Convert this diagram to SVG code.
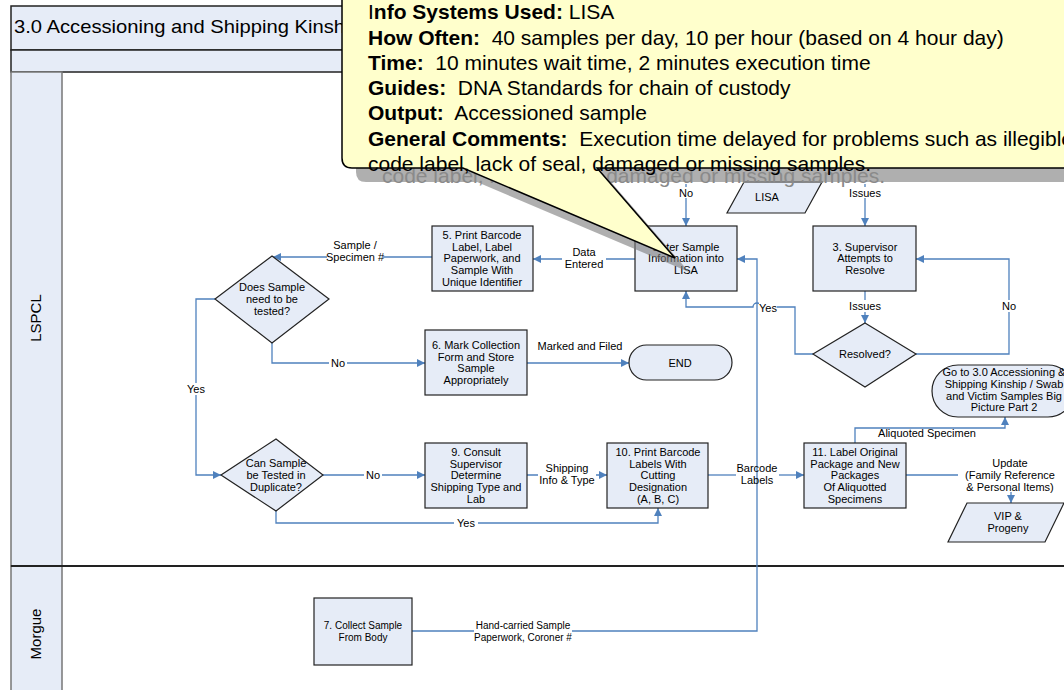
<svg xmlns="http://www.w3.org/2000/svg" width="1064" height="690" viewBox="0 0 1064 690">
<defs>
<style>
text{font-family:"Liberation Sans",Arial,sans-serif;fill:#000}
.n{fill:#E6ECF7;stroke:#222;stroke-width:1.2}
.t{font-size:11px;text-anchor:middle}
.s{font-size:10px;text-anchor:middle}
.g{font-size:11px;text-anchor:middle}
.c{fill:none;stroke:#4F81BD;stroke-width:1.3}
.bg{fill:#fff}
.co{font-size:21px}
.co tspan.b{font-weight:bold}
</style>
<marker id="a" viewBox="0 0 10 10" refX="10" refY="5" markerWidth="8" markerHeight="8" markerUnits="userSpaceOnUse" orient="auto">
<path d="M0,0 L10,5 L0,10 z" fill="#4F81BD"/>
</marker>
</defs>
<rect width="1064" height="690" fill="#fff"/>
<g id="pool">
<rect x="11" y="6" width="1060" height="44" fill="#E6ECF7" stroke="#222" stroke-width="1.5"/>
<rect x="11" y="50" width="1060" height="22" fill="#E6ECF7" stroke="#222" stroke-width="1.5"/>
<text x="14" y="33" font-size="19" textLength="331" lengthAdjust="spacingAndGlyphs">3.0 Accessioning and Shipping Kinsh</text>
</g>
<g id="lane-lspcl">
<rect x="11" y="72" width="51" height="494" fill="#E6ECF7" stroke="#777" stroke-width="1.5"/>
<text transform="translate(41,318) rotate(-90)" font-size="15" text-anchor="middle">LSPCL</text>
</g>
<g id="lane-morgue">
<rect x="11" y="566" width="51" height="130" fill="#E6ECF7" stroke="#777" stroke-width="1.5"/>
<line x1="11" y1="566" x2="1064" y2="566" stroke="#222" stroke-width="2"/>
<text transform="translate(41,634) rotate(-90)" font-size="15" text-anchor="middle">Morgue</text>
</g>

<g id="connectors">
<path class="c" d="M686,184 V226" marker-end="url(#a)"/>
<path class="c" d="M865,184 V226" marker-end="url(#a)"/>
<path class="c" d="M635,259 H533" marker-end="url(#a)"/>
<path class="c" d="M432,257 H273" marker-end="url(#a)"/>
<path class="c" d="M272,343 V363 H425" marker-end="url(#a)"/>
<path class="c" d="M527,363 H629" marker-end="url(#a)"/>
<path class="c" d="M215,299 H196 V475 H221" marker-end="url(#a)"/>
<path class="c" d="M323,475 H425" marker-end="url(#a)"/>
<path class="c" d="M527,475 H607" marker-end="url(#a)"/>
<path class="c" d="M276,511 V523 H658 V508" marker-end="url(#a)"/>
<path class="c" d="M708,475 H736"/>
<path class="c" d="M779,475 H804" marker-end="url(#a)"/>
<path class="c" d="M855,443 V428 H1005 V417" marker-end="url(#a)"/>
<path class="c" d="M906,475 H1011 V503" marker-end="url(#a)"/>
<path class="c" d="M865,291 V323" marker-end="url(#a)"/>
<path class="c" d="M916,354 H1009 V259 H916" marker-end="url(#a)"/>
<path class="c" d="M813,354 H795 V307 H761 A4,4 0 0 0 753,307 H686 V291" marker-end="url(#a)"/>
<path class="c" d="M412,631 H757 V259 H737" marker-end="url(#a)"/>
<g id="labels">
<rect class="bg" x="678" y="187" width="16" height="11"/><text class="t" x="686" y="197">No</text>
<rect class="bg" x="849" y="187" width="32" height="11"/><text class="t" x="865" y="197">Issues</text>
<rect class="bg" x="562" y="246" width="44" height="25"/><text class="t" x="584" y="256">Data</text><text class="t" x="584" y="268">Entered</text>
<rect class="bg" x="327" y="239" width="56" height="24"/><text class="t" x="355" y="249">Sample /</text><text class="t" x="355" y="261">Specimen #</text>
<rect class="bg" x="329" y="357" width="18" height="12"/><text class="t" x="338" y="367">No</text>
<text class="t" x="580" y="350">Marked and Filed</text>
<rect class="bg" x="184" y="383" width="24" height="12"/><text class="t" x="196" y="393">Yes</text>
<rect class="bg" x="364" y="469" width="18" height="12"/><text class="t" x="373" y="479">No</text>
<rect class="bg" x="538" y="461" width="58" height="26"/><text class="t" x="567" y="472">Shipping</text><text class="t" x="567" y="484">Info &amp; Type</text>
<rect class="bg" x="454" y="517" width="24" height="12"/><text class="t" x="466" y="527">Yes</text>
<text class="t" x="757" y="472">Barcode</text><text class="t" x="757" y="484">Labels</text>
<rect class="bg" x="849" y="300" width="32" height="12"/><text class="t" x="865" y="310">Issues</text>
<rect class="bg" x="1000" y="300" width="18" height="12"/><text class="t" x="1009" y="310">No</text>
<rect class="bg" x="759" y="302" width="18" height="12"/><text class="t" x="768" y="312">Yes</text>
<text class="t" x="927" y="437">Aliquoted Specimen</text>
<rect class="bg" x="958" y="456" width="104" height="36"/><text class="t" x="1010" y="467">Update</text><text class="t" x="1010" y="479">(Family Reference</text><text class="t" x="1010" y="490.5">&amp; Personal Items)</text>
<rect class="bg" x="474" y="619" width="98" height="25"/><text class="s" x="523" y="629">Hand-carried Sample</text><text class="s" x="523" y="641">Paperwork, Coroner #</text>
</g>
</g>

<g id="n-enter"><rect class="n" x="635" y="226" width="102" height="65"/><text class="t" x="686" y="250.7">Enter Sample</text><text class="t" x="686" y="262.3">Information into</text><text class="t" x="686" y="273.9">LISA</text></g>
<g id="n-lisa"><polygon class="n" points="744,182 822,182 805,213 727,213"/><text class="t" x="767" y="201">LISA</text></g>
<g id="n-supervisor"><rect class="n" x="813" y="226" width="103" height="65"/><text class="t" x="865" y="250.7">3. Supervisor</text><text class="t" x="865" y="262.3">Attempts to</text><text class="t" x="865" y="273.9">Resolve</text></g>
<g id="n-resolved"><polygon class="n" points="865,323 916,354 865,387 813,354"/><text class="t" x="865" y="358">Resolved?</text></g>
<g id="n-print5"><rect class="n" x="432" y="226" width="101" height="65"/><text class="t" x="482" y="239">5. Print Barcode</text><text class="t" x="482" y="250.7">Label, Label</text><text class="t" x="482" y="262.3">Paperwork, and</text><text class="t" x="482" y="273.9">Sample With</text><text class="t" x="482" y="285.5">Unique Identifier</text></g>
<g id="n-tested"><polygon class="n" points="272,256 329,299 272,343 215,299"/><text class="t" x="272" y="291">Does Sample</text><text class="t" x="272" y="303">need to be</text><text class="t" x="272" y="315">tested?</text></g>
<g id="n-mark6"><rect class="n" x="425" y="330" width="102" height="65"/><text class="t" x="476" y="349">6. Mark Collection</text><text class="t" x="476" y="360.5">Form and Store</text><text class="t" x="476" y="372">Sample</text><text class="t" x="476" y="383.7">Appropriately</text></g>
<g id="n-end"><rect class="n" x="629" y="345" width="103" height="35" rx="17.5"/><text class="t" x="680" y="366.5">END</text></g>
<g id="n-duplicate"><polygon class="n" points="276,439 323,475 276,511 221,475"/><text class="t" x="276" y="467">Can Sample</text><text class="t" x="276" y="479">be Tested in</text><text class="t" x="276" y="490.5">Duplicate?</text></g>
<g id="n-consult9"><rect class="n" x="425" y="443" width="102" height="65"/><text class="t" x="476" y="456.1">9. Consult</text><text class="t" x="476" y="467.7">Supervisor</text><text class="t" x="476" y="479.3">Determine</text><text class="t" x="476" y="490.9">Shipping Type and</text><text class="t" x="476" y="502.5">Lab</text></g>
<g id="n-print10"><rect class="n" x="607" y="443" width="101" height="65"/><text class="t" x="658" y="456.1">10. Print Barcode</text><text class="t" x="658" y="467.7">Labels With</text><text class="t" x="658" y="479.3">Cutting</text><text class="t" x="658" y="490.9">Designation</text><text class="t" x="658" y="502.5">(A, B, C)</text></g>
<g id="n-label11"><rect class="n" x="804" y="443" width="102" height="65"/><text class="t" x="855" y="456.1">11. Label Original</text><text class="t" x="855" y="467.7">Package and New</text><text class="t" x="855" y="479.3">Packages</text><text class="t" x="855" y="490.9">Of Aliquotted</text><text class="t" x="855" y="502.5">Specimens</text></g>
<g id="n-goto"><rect class="n" x="932" y="365" width="142" height="52" rx="26"/><text class="g" x="1004" y="376">Go to 3.0 Accessioning &amp;</text><text class="g" x="1004" y="388">Shipping Kinship / Swab</text><text class="g" x="1004" y="399.5">and Victim Samples Big</text><text class="g" x="1004" y="411">Picture Part 2</text></g>
<g id="n-vip"><polygon class="n" points="967,503 1064,503 1045,542 948,542"/><text class="t" x="1008" y="520">VIP &amp;</text><text class="t" x="1008" y="532">Progeny</text></g>
<g id="n-collect7"><rect class="n" x="314" y="598" width="98" height="67"/><text class="s" x="363" y="629">7. Collect Sample</text><text class="s" x="363" y="641">From Body</text></g>

<g id="callout">
<g transform="translate(14,14)">
<path d="M342,-20 V158 Q342,168 352,168 H463 L675,258 L597,168 H1090 V-20 Z" fill="#7a7a7a" opacity="0.6"/>
<text class="co" x="368" y="169" style="fill:#8a8a8a">code label, lack of seal, damaged or missing samples.</text>
</g>
<path d="M342,-20 V158 Q342,168 352,168 H463 L675,258 L597,168 H1090 V-20 Z" fill="#FFFFCC" stroke="#000" stroke-width="1.5"/>
<text class="co" x="368" y="19"><tspan>I</tspan><tspan class="b">nfo Systems Used:</tspan>  LISA</text>
<text class="co" x="368" y="44.5" xml:space="preserve"><tspan class="b">How Often:</tspan>  40 samples per day, 10 per hour (based on 4 hour day)</text>
<text class="co" x="368" y="69.8" xml:space="preserve"><tspan class="b">Time:</tspan>  10 minutes wait time, 2 minutes execution time</text>
<text class="co" x="368" y="95.1" xml:space="preserve"><tspan class="b">Guides:</tspan>  DNA Standards for chain of custody</text>
<text class="co" x="368" y="120.4" xml:space="preserve"><tspan class="b">Output:</tspan>  Accessioned sample</text>
<text class="co" x="368" y="145.7" xml:space="preserve"><tspan class="b">General Comments:</tspan>  Execution time delayed for problems such as illegible</text>
<text class="co" x="368" y="171">code label, lack of seal, damaged or missing samples.</text>
</g>
</svg>
